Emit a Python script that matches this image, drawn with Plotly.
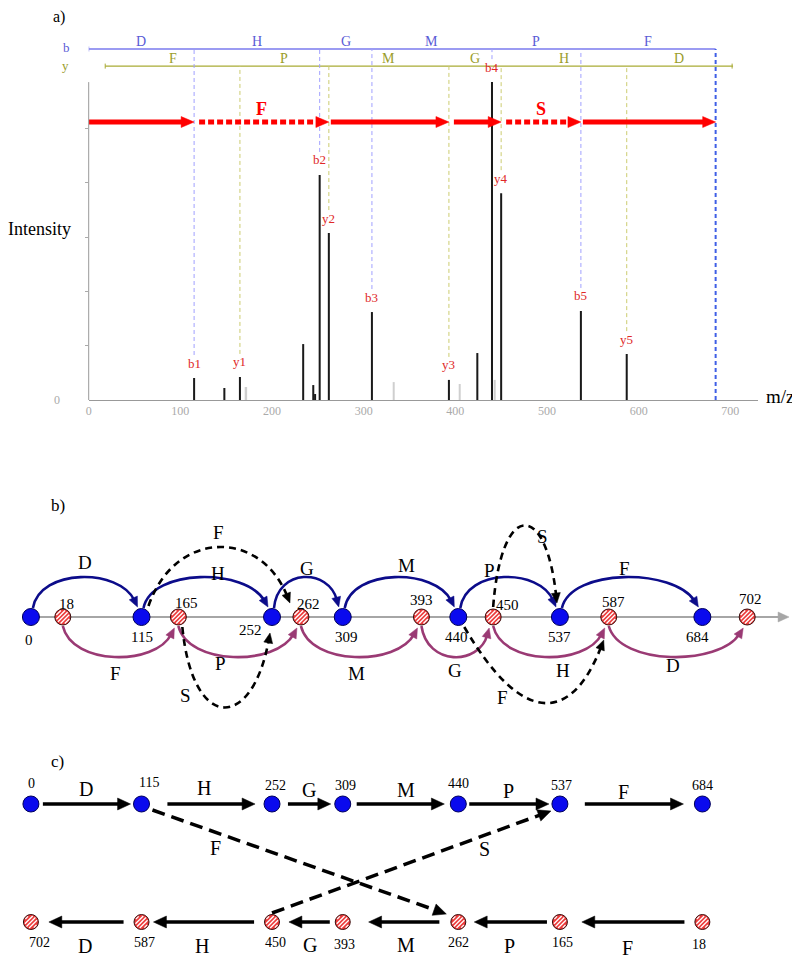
import math
import plotly.graph_objects as go

# ---------------- data ----------------
b_ions = [0, 115, 252, 309, 440, 537, 684]
y_ions = [18, 165, 262, 393, 450, 587, 702]
b_residues = ["D", "H", "G", "M", "P", "F"]
y_residues = ["F", "P", "M", "G", "H", "D"]

peak_mz = [115, 148, 165, 234, 245, 247, 252, 262, 309, 393, 424, 440, 450, 537, 587]
peak_int = [8.1, 4.4, 8.5, 20.6, 5.5, 2.2, 82.9, 61.5, 32.4, 7.4, 17.3, 117.1, 76.2, 32.8, 16.9]
peak_label = ["b1", "", "y1", "", "", "", "b2", "y2", "b3", "y3", "", "b4", "y4", "b5", "y5"]
noise_mz = [172, 333, 405, 443]
noise_int = [4.8, 6.6, 5.9, 7.4]
x_ticks = [0, 100, 200, 300, 400, 500, 600, 700]

# de novo path drawn in (a)
path_start = [0, 115, 262, 393, 450, 537]
path_end = [115, 262, 393, 450, 537, 684]
path_jump = ["", "F", "", "", "S", ""]

# gap (dashed) edges in the spectrum graph (b)
jump_from = [115, 165, 450, 440]
jump_to = [262, 252, 537, 587]
jump_label = ["F", "S", "S", "F"]
# gap edges in (c)
c_jump_from = [115, 450]
c_jump_to = [262, 537]
c_jump_label = ["F", "S"]

# ---------------- layout constants ----------------
FONT = "Liberation Serif"
PAGE_W, PAGE_H = 800, 961
OFF = 8                      # default body margin of the html page
W, H = PAGE_W - OFF, PAGE_H - OFF
A_LEFT, A_RIGHT, A_BOTTOM, A_TOP = 86, 758, 400, 30   # page pixels
X_MAX, Y_MAX = 730.4, 136.3
XS = (A_RIGHT - A_LEFT) / X_MAX
YS = (A_BOTTOM - A_TOP) / Y_MAX
B_LADDER, Y_LADDER, PATH_Y = 129.3, 123.0, 102.4

# schematic node slots for (b) and (c)
slot_x = [28, 139, 270, 341, 457, 559, 702]
b_graph_y_x = [60, 176, 299, 420, 492, 608, 747]
GB_Y = 617
C_TOP, C_BOT = 804, 922

pos_b = {}
for m, x in zip(b_ions, slot_x):
    pos_b[m] = x
for m, x in zip(y_ions, b_graph_y_x):
    pos_b[m] = x

shapes = []
annotations = []
traces = []


def ann(x, y, text, size, color="black", xref="x2", yref="y2", **kw):
    d = dict(x=x, y=y, text=text, xref=xref, yref=yref, showarrow=False,
             font=dict(family=FONT, size=size, color=color),
             xanchor="center", yanchor="middle")
    d.update(kw)
    annotations.append(d)


def tri_path(tip, u, L, hw, sx=1.0, sy=1.0):
    ux, uy = u
    bx, by = tip[0] - ux * L / sx, tip[1] - uy * L / sy
    px, py = -uy, ux
    p1 = (bx + px * hw / sx, by + py * hw / sy)
    p2 = (bx - px * hw / sx, by - py * hw / sy)
    return f"M {tip[0]},{tip[1]} L {p1[0]},{p1[1]} L {p2[0]},{p2[1]} Z"


def unit(a, b):
    dx, dy = b[0] - a[0], b[1] - a[1]
    n = math.hypot(dx, dy)
    return dx / n, dy / n


def curve_arrow(p0, c1, c2, tip, color, width, dash="solid", L=10, hw=4.5):
    u = unit(c2, tip)
    end = (tip[0] - u[0] * L * 0.7, tip[1] - u[1] * L * 0.7)
    shapes.append(dict(type="path", xref="x2", yref="y2", layer="below",
                       path=f"M {p0[0]},{p0[1]} C {c1[0]},{c1[1]} {c2[0]},{c2[1]} {end[0]},{end[1]}",
                       line=dict(color=color, width=width, dash=dash)))
    shapes.append(dict(type="path", xref="x2", yref="y2", layer="below",
                       path=tri_path(tip, u, L, hw), fillcolor=color,
                       line=dict(color=color, width=0.5)))


def straight_arrow(p0, tip, color, width, dash="solid", L=13, hw=6):
    u = unit(p0, tip)
    end = (tip[0] - u[0] * L * 0.8, tip[1] - u[1] * L * 0.8)
    shapes.append(dict(type="line", xref="x2", yref="y2", layer="below",
                       x0=p0[0], y0=p0[1], x1=end[0], y1=end[1],
                       line=dict(color=color, width=width, dash=dash)))
    shapes.append(dict(type="path", xref="x2", yref="y2", layer="below",
                       path=tri_path(tip, u, L, hw), fillcolor=color,
                       line=dict(color=color, width=0.5)))


def blue_nodes(xs, y, size):
    traces.append(go.Scatter(x=xs, y=[y] * len(xs), mode="markers",
                             marker=dict(size=size, color="#0a0aee", line=dict(color="#00005a", width=1)),
                             xaxis="x2", yaxis="y2", hoverinfo="skip"))


def hatched_nodes(xs, y, size):
    traces.append(go.Scatter(x=xs, y=[y] * len(xs), mode="markers",
                             marker=dict(size=size, color="#ec3a3a", line=dict(color="#3a1010", width=1)),
                             xaxis="x2", yaxis="y2", hoverinfo="skip"))
    r = size / 2 - 1.2
    for d in (-6, -3, 0, 3, 6):
        half = math.sqrt(max(r * r - d * d, 0))
        s = 2 * half / math.sqrt(2)
        if s < 2:
            continue
        o = d / math.sqrt(2)
        traces.append(go.Scatter(x=[x + o for x in xs], y=[y + o] * len(xs), mode="markers",
                                 marker=dict(symbol="line-ne", size=s,
                                             line=dict(color="white", width=1.3)),
                                 xaxis="x2", yaxis="y2", hoverinfo="skip"))


# ================= panel (a) =================
traces.append(go.Bar(x=noise_mz, y=noise_int, width=1.7, marker=dict(color="#cfcfcf", line=dict(width=0)),
                     xaxis="x", yaxis="y", hoverinfo="skip"))
traces.append(go.Bar(x=peak_mz, y=peak_int, width=2.2, marker=dict(color="#1a1a1a", line=dict(width=0)),
                     xaxis="x", yaxis="y", hoverinfo="skip"))

peak_of = dict(zip(peak_mz, peak_int))
B_COL, Y_COL = "#7a7aee", "#a9ab35"

# ladders
shapes.append(dict(type="line", xref="x", yref="y", x0=b_ions[0], x1=b_ions[-1], y0=B_LADDER, y1=B_LADDER,
                   line=dict(color=B_COL, width=1.3), layer="below"))
shapes.append(dict(type="line", xref="x", yref="y", x0=y_ions[0], x1=y_ions[-1] + 1, y0=Y_LADDER, y1=Y_LADDER,
                   line=dict(color=Y_COL, width=1.3), layer="below"))
for m, lvl, col in [(b_ions[0], B_LADDER, B_COL), (y_ions[0], Y_LADDER, Y_COL), (y_ions[-1], Y_LADDER, Y_COL)]:
    shapes.append(dict(type="line", xref="x", yref="y", x0=m, x1=m, y0=lvl - 2.5 / YS, y1=lvl + 2.5 / YS,
                       line=dict(color=col, width=1), layer="below"))
for i, r in enumerate(b_residues):
    ann((b_ions[i] + b_ions[i + 1]) / 2, B_LADDER, r, 14, "#5a5ad6", xref="x", yref="y", yshift=8)
for i, r in enumerate(y_residues):
    ann((y_ions[i] + y_ions[i + 1]) / 2, Y_LADDER, r, 14, "#9a9c2a", xref="x", yref="y", yshift=8)

# vertical guide lines
for m in b_ions[1:]:
    if m in peak_of:
        shapes.append(dict(type="line", xref="x", yref="y", x0=m, x1=m, y0=peak_of[m] + 23 / YS, y1=B_LADDER,
                           line=dict(color="#a0a0ff", width=1, dash="4px,3px"), layer="below"))
    else:
        shapes.append(dict(type="line", xref="x", yref="y", x0=m, x1=m, y0=0, y1=B_LADDER,
                           line=dict(color="#3f5fe6", width=2, dash="4px,3px"), layer="below"))
for m in y_ions[1:-1]:
    shapes.append(dict(type="line", xref="x", yref="y", x0=m, x1=m, y0=peak_of[m] + 23 / YS, y1=Y_LADDER,
                       line=dict(color="#cccc70", width=1, dash="4px,3px"), layer="below"))

# peak labels
for m, v, lab in zip(peak_mz, peak_int, peak_label):
    if lab:
        ann(m, v, lab, 13, "#e02828", xref="x", yref="y", yshift=15)

# red de novo path
RED = "#ff0000"
for i, (s, e, j) in enumerate(zip(path_start, path_end, path_jump)):
    gap = 0 if i == 0 else (2 if path_jump[i - 1] else 5)
    x0 = s + gap / XS
    x1 = e - 13 * 0.8 / XS
    shapes.append(dict(type="line", xref="x", yref="y", x0=x0, x1=x1, y0=PATH_Y, y1=PATH_Y,
                       line=dict(color=RED, width=5, dash="6px,3px" if j else "solid")))
    shapes.append(dict(type="path", xref="x", yref="y",
                       path=tri_path((e, PATH_Y), (1, 0), 13, 5.5, XS, YS), fillcolor=RED,
                       line=dict(color=RED, width=0.5)))
    if j:
        ann((s + e) / 2, PATH_Y, f"<b>{j}</b>", 18, RED, xref="x", yref="y", yshift=13)

# y axis line and extra texts
shapes.append(dict(type="line", xref="x2", yref="y2", x0=A_LEFT, x1=A_LEFT,
                   y0=A_BOTTOM, y1=A_BOTTOM - max(peak_int) * YS, line=dict(color="#999999", width=1)))
ann(54, 400, "0", 12, "#aaaaaa")
ann(37, 229, "Intensity", 18)
ann(780, 396, "m/z", 19)
ann(56, 17, "a)", 16)
ann(64, 47, "b", 13, "#5a5ad6")
ann(63, 65, "y", 13, "#9a9c2a")

# ================= panel (b) =================
ann(55, 505, "b)", 17)
shapes.append(dict(type="line", xref="x2", yref="y2", layer="below", x0=20, x1=780, y0=GB_Y, y1=GB_Y,
                   line=dict(color="#a6a6a6", width=2)))
shapes.append(dict(type="path", xref="x2", yref="y2", layer="below",
                   path=tri_path((789, GB_Y), (1, 0), 11, 5), fillcolor="#a6a6a6",
                   line=dict(color="#a6a6a6", width=0.5)))

NAVY, PURP = "#0c0c8a", "#9a3a74"
for i in range(len(b_ions) - 1):
    x0, x1 = pos_b[b_ions[i]], pos_b[b_ions[i + 1]]
    dx = x1 - x0
    curve_arrow((x0 + 2, 608), (x0 + 0.08 * dx, 568), (x1 - 0.2 * dx, 568), (x1 - 4, 607), NAVY, 2.6)
for i in range(len(y_ions) - 1):
    x0, x1 = pos_b[y_ions[i]], pos_b[y_ions[i + 1]]
    dx = x1 - x0
    curve_arrow((x0, 626), (x0 + 0.08 * dx, 666), (x1 - 0.2 * dx, 666), (x1 - 4, 628), PURP, 2.6)

dashed_geo = [((146, 606), (172, 530), (258, 528), (288, 603)),
              ((180, 627), (190, 732), (250, 732), (268, 633)),
              ((492, 607), (500, 500), (545, 500), (556, 603)),
              ((463, 627), (520, 725), (570, 725), (603, 640))]
for (p0, c1, c2, tip) in dashed_geo:
    curve_arrow(p0, c1, c2, tip, "black", 2.6, dash="7px,5px", L=10, hw=4.5)

blue_nodes([pos_b[m] for m in b_ions], GB_Y, 17)
hatched_nodes([pos_b[m] for m in y_ions], GB_Y, 16)

b_lab_pos = [(26, 640), (139, 637), (248, 630), (345, 637), (455, 637), (559, 637), (697, 637)]
for m, (x, y) in zip(b_ions, b_lab_pos):
    ann(x, y, str(m), 15)
y_lab_pos = [(64, 604), (184, 603), (307, 604), (420, 600), (506, 605), (613, 602), (750, 599)]
for m, (x, y) in zip(y_ions, y_lab_pos):
    ann(x, y, str(m), 15)
for r, (x, y) in zip(b_residues, [(82, 562), (216, 573), (305, 568), (405, 565), (488, 570), (624, 568)]):
    ann(x, y, r, 19)
for r, (x, y) in zip(y_residues, [(113, 673), (218, 663), (355, 673), (454, 670), (562, 670), (673, 665)]):
    ann(x, y, r, 19)
for r, (x, y) in zip(jump_label, [(216, 532), (183, 695), (542, 536), (501, 697)]):
    ann(x, y, r, 19)

# ================= panel (c) =================
ann(55, 761, "c)", 17)
top_arrows = [(40, 128), (165, 253), (286, 329), (355, 443), (468, 548), (584, 683)]
bot_arrows = [(684, 581), (546, 473), (438, 367), (328, 287), (252, 151), (121, 46)]
for (a, b) in top_arrows:
    straight_arrow((a, C_TOP), (b, C_TOP), "black", 3.5)
for (a, b) in bot_arrows:
    straight_arrow((a, C_BOT), (b, C_BOT), "black", 3.5)
c_dash_geo = [((150, 810), (445, 914)), ((270, 913), (550, 811))]
for (p0, tip) in c_dash_geo:
    straight_arrow(p0, tip, "black", 3.5, dash="13px,7px")

blue_nodes(slot_x, C_TOP, 16)
hatched_nodes(slot_x, C_BOT, 15)

c_top_lab = [(29, 783), (147, 782), (273, 785), (344, 785), (457, 783), (561, 785), (702, 785)]
for m, (x, y) in zip(b_ions, c_top_lab):
    ann(x, y, str(m), 14)
c_bot_lab = [(37, 942), (142, 942), (273, 942), (343, 944), (457, 942), (562, 942), (699, 944)]
for m, (x, y) in zip(y_ions[::-1], c_bot_lab):
    ann(x, y, str(m), 14)
for r, (x, y) in zip(b_residues, [(83, 789), (202, 788), (307, 790), (404, 790), (507, 791), (623, 792)]):
    ann(x, y, r, 20)
for r, (x, y) in zip(y_residues[::-1], [(82, 946), (200, 946), (308, 945), (404, 945), (508, 946), (627, 948)]):
    ann(x, y, r, 20)
for r, (x, y) in zip(c_jump_label, [(213, 848), (483, 849)]):
    ann(x, y, r, 20)

fig = go.Figure(data=traces)
fig.update_layout(
    width=W, height=H, autosize=False,
    margin=dict(l=0, r=0, t=0, b=0),
    paper_bgcolor="white", plot_bgcolor="rgba(0,0,0,0)",
    showlegend=False, barmode="overlay",
    font=dict(family=FONT),
    xaxis=dict(domain=[(A_LEFT - OFF) / W, (A_RIGHT - OFF) / W], range=[0, X_MAX], anchor="y",
               showline=True, linecolor="#999999", linewidth=1, showgrid=False, zeroline=False,
               tickvals=x_ticks, ticks="", tickfont=dict(family=FONT, size=12, color="#aaaaaa")),
    yaxis=dict(domain=[(PAGE_H - A_BOTTOM) / H, (PAGE_H - A_TOP) / H], range=[0, Y_MAX], anchor="x",
               showline=False, showgrid=False, zeroline=False,
               tickvals=[20, 40, 60, 80, 100], ticks="outside", ticklen=3, tickcolor="#aaaaaa",
               showticklabels=False),
    xaxis2=dict(domain=[0, 1], range=[OFF, PAGE_W], anchor="y2", visible=False),
    yaxis2=dict(domain=[0, 1], range=[PAGE_H, OFF], anchor="x2", visible=False),
    shapes=shapes, annotations=annotations,
)
fig.write_html("out.html")
